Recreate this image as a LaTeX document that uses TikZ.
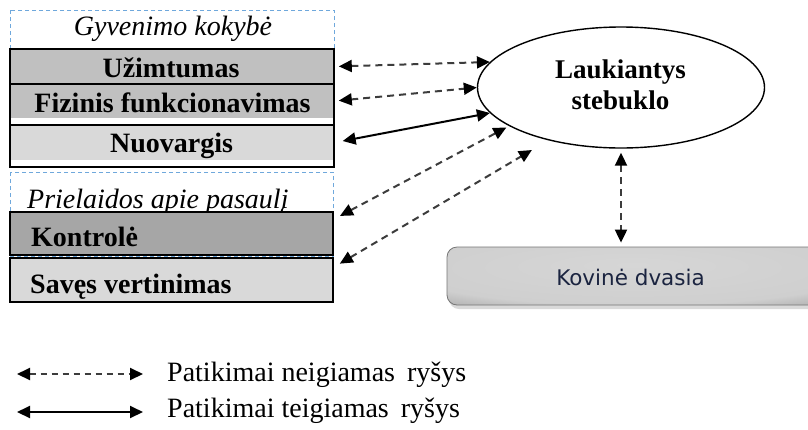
\documentclass[tikz,border=0pt]{standalone}
\usepackage{fontspec}
\setmainfont{Liberation Serif}
\newfontfamily\kovfont{DejaVu Sans}
\usetikzlibrary{arrows.meta,shapes.geometric}

\definecolor{rowgray}{HTML}{C0C0C0}
\definecolor{lightrow}{HTML}{D9D9D9}
\definecolor{darkrow}{HTML}{A6A6A6}
\definecolor{groupblue}{HTML}{6FA8DC}
\definecolor{inkgray}{HTML}{3C3C3C}
\definecolor{navyink}{HTML}{1B2440}
\definecolor{kovA}{HTML}{D6D6D6}
\definecolor{kovB}{HTML}{CFCFCF}
\definecolor{kovC}{HTML}{B0B0B0}
\definecolor{kovD}{HTML}{8E8E8E}
\definecolor{kovE}{HTML}{767676}

% metallic bar: light centre slightly above the middle, darker rim
% (a shaded path is filled by the central 100bp x 100bp square of the shading)
\pgfdeclareradialshading{kovshade}{\pgfpoint{0bp}{10bp}}{%
  color(0bp)=(kovA); color(31bp)=(kovB); color(40bp)=(kovC);
  color(46.5bp)=(kovD); color(50bp)=(kovE); color(80bp)=(kovE)}

\tikzset{
  rowbox/.style={rectangle, inner sep=0pt, line width=1.6pt},
  groupframe/.style={draw=groupblue, line width=0.9pt, dash pattern=on 4pt off 3pt},
  boldtext/.style={anchor=base, inner sep=0pt, font=\fontsize{28}{30}\selectfont\bfseries},
  italtext/.style={anchor=base, inner sep=0pt, font=\fontsize{28}{30}\selectfont\itshape},
  legtext/.style={anchor=base west, inner sep=0pt, font=\fontsize{28}{30}\selectfont},
  rel/.style={{Triangle[length=13pt,width=12pt,color=black]}-{Triangle[length=13pt,width=12pt,color=black]}, line width=2pt},
  posrel/.style={rel, draw=black},
  negrel/.style={rel, draw=inkgray, dash pattern=on 7pt off 5pt},
}

\begin{document}
\begin{tikzpicture}[x=1pt,y=-1pt]
\useasboundingbox (0,0) rectangle (808,429);
\fill[white] (0,0) rectangle (808,429);

% ---- group 1: Gyvenimo kokybe ----
\draw[groupframe] (10,10) rectangle (334,49);
\node[italtext] (gkT) at (173,35) {Gyvenimo kokybė};

\node[rowbox, fill=rowgray, draw=black, minimum width=324pt, minimum height=35pt] (uzi) at (172,66.5) {};
\node[rowbox, fill=rowgray, minimum width=324pt, minimum height=34pt] (fiz) at (172,101) {};
\draw[line width=1.6pt] (10,84) rectangle (334,125);
\node[rowbox, fill=lightrow, minimum width=324pt, minimum height=35pt] (nuo) at (172,142.5) {};
\draw[line width=1.6pt] (10,125) rectangle (334,167);

\node[boldtext] (uziT) at (171,77) {Užimtumas};
\node[boldtext] (fizT) at (172.5,112) {Fizinis funkcionavimas};
\node[boldtext] (nuoT) at (171.5,152) {Nuovargis};

% ---- group 2: Prielaidos apie pasauli ----
\draw[groupframe] (10,172) rectangle (333,256);
\node[italtext, anchor=base west] (ppT) at (27,208.3) {Prielaidos apie pasaulį};

\node[rowbox, fill=darkrow, draw=black, minimum width=323pt, minimum height=43pt] (kon) at (171.5,233.5) {};
\node[rowbox, fill=lightrow, draw=black, minimum width=323pt, minimum height=44pt] (sav) at (171.5,280) {};
\node[boldtext, anchor=base west] (konT) at (31,246.7) {Kontrolė};
\node[boldtext, anchor=base west] (savT) at (30,293) {Savęs vertinimas};

% ---- central ellipse ----
\node[draw, ellipse, line width=1.4pt, inner sep=0pt,
      minimum width=287pt, minimum height=121pt] (ell) at (621,87.5) {};
\node[align=center, inner sep=0pt, font=\fontsize{27}{31.5}\selectfont\bfseries]
      (ellT) at (620.5,85) {Laukiantys\\stebuklo};

% ---- Kovine dvasia (soft shadow, then shaded bar) ----
\begin{scope}
\clip (0,0) rectangle (808,429);
\fill[black!15, rounded corners=10pt] (449,251) rectangle (822,309);
\node[rectangle, rounded corners=10pt, minimum width=372pt, minimum height=58pt,
      draw=kovE, line width=0.8pt, shading=kovshade] (kov) at (633,276) {};
\end{scope}
\node[anchor=base, inner sep=0pt, text=navyink, font=\kovfont\fontsize{21.5}{24}\selectfont]
      (kovT) at (630.5,285) {Kovinė dvasia};

% ---- relations ----
\draw[negrel, shorten <=4pt] (uzi.east) -- (ell.169);
\draw[negrel, shorten <=4pt] (fiz.east) -- (ell.180);
\draw[posrel, shorten <=8pt] (nuo.east) -- (ell.191);
\draw[negrel, shorten <=7pt, shorten >=3pt] ([yshift=-8pt]kon.north east) -- (ell.199);
\draw[negrel, shorten <=7pt, shorten >=19pt] ([yshift=-10pt]sav.north east) -- (ell.216);
\draw[negrel, shorten <=4pt, shorten >=4pt] (ell.south) -- (ell.south |- kov.north);

% ---- legend ----
\coordinate (legN1) at (17,374);
\coordinate (legN2) at (143,374);
\coordinate (legP1) at (17,412);
\coordinate (legP2) at (143,412);
\draw[negrel, dash pattern=on 6pt off 5pt] (legN1) -- (legN2);
\draw[posrel] (legP1) -- (legP2);
\node[legtext] (legNT) at (167,381.5) {Patikimai neigiamas\hspace{5pt} ryšys};
\node[legtext] (legPT) at (167,417.5) {Patikimai teigiamas\hspace{5pt} ryšys};
\end{tikzpicture}
\end{document}
